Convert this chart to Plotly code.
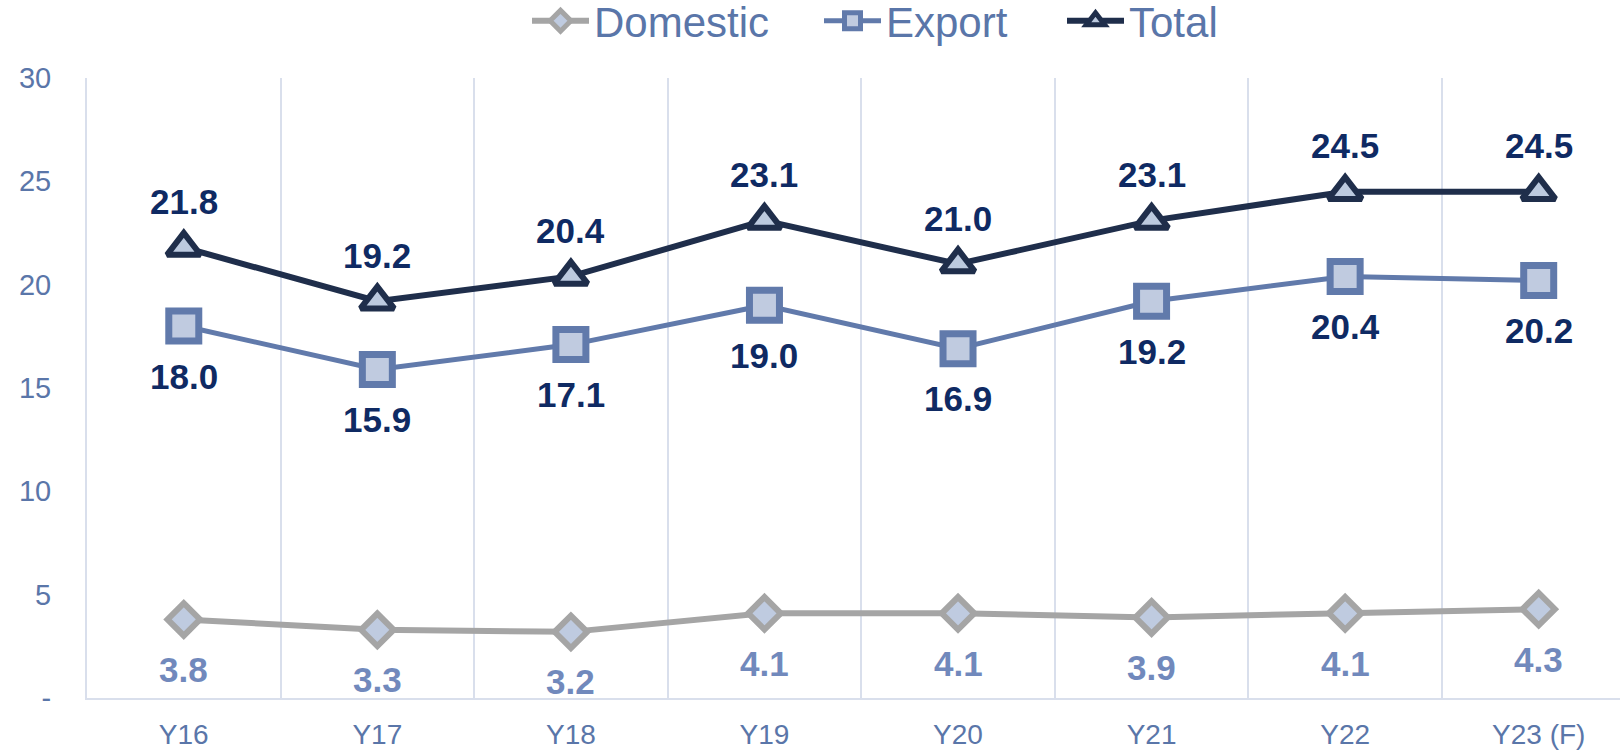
import plotly.graph_objects as go

categories = ["Y16", "Y17", "Y18", "Y19", "Y20", "Y21", "Y22", "Y23 (F)"]
domestic = [3.8, 3.3, 3.2, 4.1, 4.1, 3.9, 4.1, 4.3]
export = [18.0, 15.9, 17.1, 19.0, 16.9, 19.2, 20.4, 20.2]
total = [21.8, 19.2, 20.4, 23.1, 21.0, 23.1, 24.5, 24.5]
y_tickvals = [0, 5, 10, 15, 20, 25, 30]
y_ticktext = ["-", "5", "10", "15", "20", "25", "30"]

FONT = "Liberation Sans, Arial, sans-serif"
AXIS_COLOR = "#5a76a9"
GRID = "#d9dfec"
NAVY_LABEL = "#0f2a63"
DOM_LABEL = "#7189bc"

xs = list(range(len(categories)))

fig = go.Figure()
fig.add_trace(go.Scatter(
    x=xs, y=domestic, name="Domestic", mode="lines+markers", legend="legend",
    line=dict(color="#a5a5a5", width=6),
    marker=dict(symbol="diamond", size=25, color="#bfcbe0",
                line=dict(color="#a5a5a5", width=6)),
))
fig.add_trace(go.Scatter(
    x=xs, y=export, name="Export", mode="lines+markers", legend="legend2",
    line=dict(color="#617aab", width=5),
    marker=dict(symbol="square", size=30, color="#c0cbe0",
                line=dict(color="#617aab", width=7)),
))
fig.add_trace(go.Scatter(
    x=xs, y=total, name="Total", mode="lines+markers", legend="legend3",
    line=dict(color="#1f2e4b", width=6),
    marker=dict(symbol="triangle-up", size=29, color="#bccadf",
                line=dict(color="#1f2e4b", width=6)),
))

annotations = []
for i, v in enumerate(total):
    annotations.append(dict(x=i, y=v, text=f"{v:.1f}", showarrow=False,
                            yshift=46, font=dict(family=FONT, size=35, color=NAVY_LABEL, weight="bold")))
for i, v in enumerate(export):
    annotations.append(dict(x=i, y=v, text=f"{v:.1f}", showarrow=False,
                            yshift=-50, font=dict(family=FONT, size=35, color=NAVY_LABEL, weight="bold")))
for i, v in enumerate(domestic):
    annotations.append(dict(x=i, y=v, text=f"{v:.1f}", showarrow=False,
                            yshift=-50, font=dict(family=FONT, size=35, color=DOM_LABEL, weight="bold")))

legend_common = dict(orientation="h", yref="container", xref="container",
                     y=1 - 21 / 750, yanchor="middle", xanchor="left",
                     font=dict(family=FONT, size=42, color=AXIS_COLOR),
                     itemwidth=57, bgcolor="rgba(0,0,0,0)")

fig.update_layout(
    width=1620, height=750,
    margin=dict(l=87, r=0, t=78, b=52, autoexpand=False),
    paper_bgcolor="white", plot_bgcolor="white",
    font=dict(family=FONT, color=AXIS_COLOR),
    showlegend=True,
    legend=dict(legend_common, x=527 / 1620),
    legend2=dict(legend_common, x=819 / 1620),
    legend3=dict(legend_common, x=1062 / 1620),
    annotations=annotations,
    xaxis=dict(
        range=[-0.5, 7.42], tickmode="array", tickvals=xs, ticktext=categories,
        showgrid=False, zeroline=False,
        showline=True, linecolor=GRID, linewidth=2,
        tickfont=dict(family=FONT, size=28, color=AXIS_COLOR),
        ticks="", ticklabelstandoff=10,
        minor=dict(tick0=0.5, dtick=1, showgrid=True, gridcolor=GRID, gridwidth=2, ticks=""),
    ),
    yaxis=dict(
        range=[0, 30], tickmode="array", tickvals=y_tickvals, ticktext=y_ticktext,
        showgrid=False, zeroline=False,
        showline=True, linecolor=GRID, linewidth=2,
        tickfont=dict(family=FONT, size=29, color=AXIS_COLOR),
        ticks="", ticklabelstandoff=28,
    ),
)

fig.write_html("out.html", config={"displayModeBar": False},
               post_script="document.body.style.margin='0';")
